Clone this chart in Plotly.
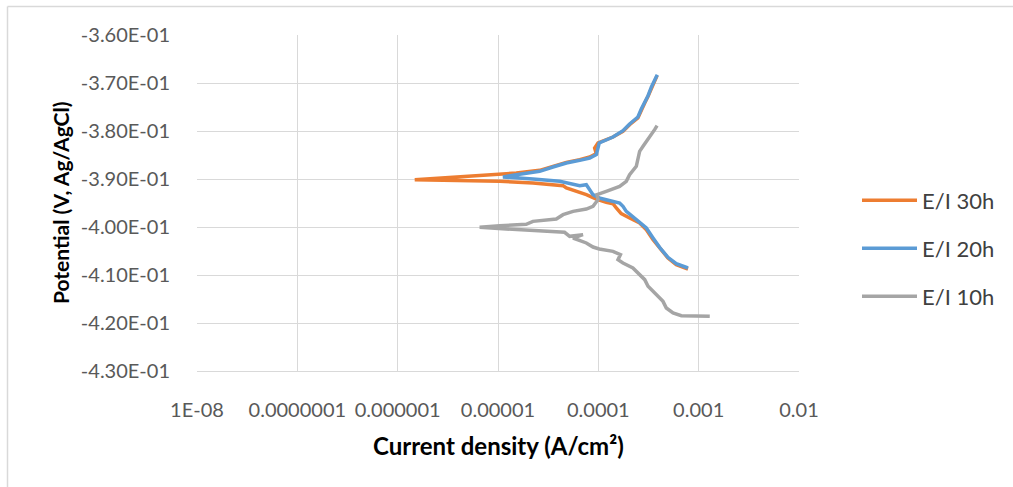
import plotly.graph_objects as go

# ---------------- data ----------------
series_names = ["E/I 30h", "E/I 20h", "E/I 10h"]

i_30h = [7.83e-4, 5.98e-4, 4.94e-4, 4.08e-4, 3.51e-4, 3.01e-4, 2.58e-4, 2.05e-4, 1.69e-4, 1.51e-4,
         1.40e-4, 1.20e-4, 9.55e-5, 7.59e-5, 5.60e-5, 4.80e-5, 4.45e-5, 2.23e-5, 1.04e-5, 1.48e-6,
         1.52e-5, 2.60e-5, 3.53e-5, 4.80e-5, 6.52e-5, 8.20e-5, 9.55e-5, 9.19e-5, 9.93e-5, 1.40e-4,
         1.76e-4, 2.05e-4, 2.48e-4, 2.68e-4, 2.90e-4, 3.13e-4, 3.38e-4, 3.64e-4, 3.85e-4]
e_30h = [-0.40875, -0.40785, -0.40646, -0.40438, -0.40264, -0.40056, -0.39917, -0.39813, -0.39722, -0.39604,
         -0.39514, -0.39486, -0.39417, -0.39326, -0.39243, -0.39188, -0.39139, -0.39083, -0.39049, -0.39014,
         -0.38875, -0.38819, -0.38736, -0.38653, -0.38597, -0.38542, -0.38472, -0.38354, -0.38250, -0.38125,
         -0.38007, -0.37868, -0.37729, -0.37556, -0.37417, -0.37278, -0.37104, -0.36944, -0.36847]

i_20h = [7.83e-4, 5.98e-4, 4.94e-4, 4.08e-4, 3.51e-4, 3.01e-4, 2.58e-4, 2.21e-4, 1.90e-4, 1.76e-4,
         1.63e-4, 1.20e-4, 1.02e-4, 8.85e-5, 7.89e-5, 7.59e-5, 6.52e-5, 4.12e-5, 2.23e-5, 1.12e-5,
         1.52e-5, 2.60e-5, 3.53e-5, 4.80e-5, 6.52e-5, 8.20e-5, 9.55e-5, 9.93e-5, 1.02e-4, 1.40e-4,
         1.76e-4, 2.05e-4, 2.48e-4, 2.68e-4, 2.90e-4, 3.13e-4, 3.38e-4, 3.64e-4, 3.87e-4]
e_20h = [-0.40854, -0.40764, -0.40632, -0.40424, -0.40229, -0.40021, -0.39903, -0.39778, -0.39674, -0.39569,
         -0.39500, -0.39431, -0.39396, -0.39326, -0.39188, -0.39118, -0.39139, -0.39049, -0.39000, -0.38958,
         -0.38910, -0.38840, -0.38750, -0.38667, -0.38611, -0.38563, -0.38493, -0.38375, -0.38250, -0.38125,
         -0.37993, -0.37854, -0.37708, -0.37542, -0.37403, -0.37264, -0.37083, -0.36917, -0.36826]

i_10h = [1.29e-3, 6.72e-4, 5.55e-4, 4.76e-4, 4.41e-4, 3.79e-4, 3.13e-4, 2.90e-4, 2.58e-4, 2.21e-4,
         1.76e-4, 1.57e-4, 1.66e-4, 1.40e-4, 1.02e-4, 8.85e-5, 7.59e-5, 5.60e-5, 7.03e-5, 5.18e-5,
         4.61e-5, 2.23e-5, 1.04e-5, 6.56e-6,
         1.04e-5, 1.91e-5, 2.23e-5, 3.81e-5, 4.45e-5, 5.60e-5, 7.59e-5, 8.85e-5, 9.93e-5, 9.70e-5,
         1.20e-4, 1.63e-4, 1.90e-4, 2.05e-4, 2.39e-4, 2.48e-4, 2.58e-4, 2.79e-4, 3.13e-4, 3.38e-4,
         3.64e-4, 3.85e-4]
e_10h = [-0.41861, -0.41847, -0.41792, -0.41688, -0.41549, -0.41410, -0.41236, -0.41097, -0.40993, -0.40854,
         -0.40750, -0.40681, -0.40576, -0.40507, -0.40458, -0.40417, -0.40333, -0.40229, -0.40160, -0.40194,
         -0.40111, -0.40069, -0.40042, -0.40007,
         -0.39972, -0.39944, -0.39882, -0.39833, -0.39743, -0.39674, -0.39625, -0.39569, -0.39431, -0.39326,
         -0.39257, -0.39153, -0.39049, -0.38910, -0.38736, -0.38597, -0.38424, -0.38319, -0.38181, -0.38076,
         -0.37972, -0.37889]

x_tickvals = [1e-8, 1e-7, 1e-6, 1e-5, 1e-4, 1e-3, 1e-2]
x_ticktext = ["1E-08", "0.0000001", "0.000001", "0.00001", "0.0001", "0.001", "0.01"]
y_tickvals = [-0.36, -0.37, -0.38, -0.39, -0.40, -0.41, -0.42, -0.43]
y_ticktext = ["-3.60E-01", "-3.70E-01", "-3.80E-01", "-3.90E-01", "-4.00E-01", "-4.10E-01", "-4.20E-01", "-4.30E-01"]
x_title = "<b>Current density (A/cm²)</b>"
y_title = "<b>Potential (V, Ag/AgCl)</b>"

colors = ["#ED7D31", "#5B9BD5", "#A5A5A5"]
FONT = "Lato"

# ---------------- figure ----------------
fig = go.Figure()
data = [(i_30h, e_30h), (i_20h, e_20h), (i_10h, e_10h)]
legends = ["legend", "legend2", "legend3"]
for (xs, ys), name, col, lg in zip(data, series_names, colors, legends):
    fig.add_trace(go.Scatter(x=xs, y=ys, mode="lines", name=name,
                             line=dict(color=col, width=3.5), legend=lg))

L, R, T, B = 197, 214, 35, 116
W, H = 1013, 487
pw, ph = W - L - R, H - T - B

def lg(yc):
    return dict(x=(857 - L) / pw, y=(H - B - yc) / ph, xanchor="left", yanchor="middle",
                font=dict(family=FONT, size=22, color="#404040"), itemwidth=55,
                bgcolor="rgba(0,0,0,0)")

fig.update_layout(
    width=W, height=H,
    margin=dict(l=L, r=R, t=T, b=B),
    paper_bgcolor="white", plot_bgcolor="white",
    font=dict(family=FONT, size=20, color="#595959"),
    showlegend=True,
    legend=lg(200.5), legend2=lg(248.5), legend3=lg(296.5),
    xaxis=dict(type="log", range=[-8, -2], tickvals=x_tickvals, ticktext=x_ticktext,
               showgrid=True, gridcolor="#d9d9d9", gridwidth=1, zeroline=False,
               showline=True, linecolor="#d9d9d9", linewidth=1, mirror=False,
               ticks="outside", ticklen=21, tickcolor="rgba(0,0,0,0)",
               tickfont=dict(family=FONT, size=20, color="#595959")),
    yaxis=dict(range=[-0.43, -0.36], tickvals=y_tickvals, ticktext=y_ticktext,
               showgrid=True, gridcolor="#d9d9d9", gridwidth=1, zeroline=False,
               showline=False,
               ticks="outside", ticklen=22, tickcolor="rgba(0,0,0,0)",
               tickfont=dict(family=FONT, size=20, color="#595959")),
)

# axis titles
fig.add_annotation(text=x_title, xref="paper", yref="paper", x=0.5, y=-(445 - (H - B)) / ph,
                   xanchor="center", yanchor="middle", showarrow=False,
                   font=dict(family=FONT, size=24, color="#000000"))
fig.add_annotation(text=y_title, xref="paper", yref="paper", x=(60 - L) / pw, y=0.5,
                   xanchor="center", yanchor="middle", showarrow=False, textangle=-90,
                   font=dict(family=FONT, size=21, color="#000000"))

# outer chart-area border (left and top edges visible)
x_left = (7.5 - L) / pw
y_top = (H - B - 6.5) / ph
fig.add_shape(type="line", xref="paper", yref="paper", x0=x_left, x1=x_left,
              y0=-(B + 5) / ph, y1=y_top, line=dict(color="#d9d9d9", width=1.5))
fig.add_shape(type="line", xref="paper", yref="paper", x0=x_left, x1=(W + 5 - L) / pw,
              y0=y_top, y1=y_top, line=dict(color="#d9d9d9", width=1.5))

fig.write_html("out.html")
